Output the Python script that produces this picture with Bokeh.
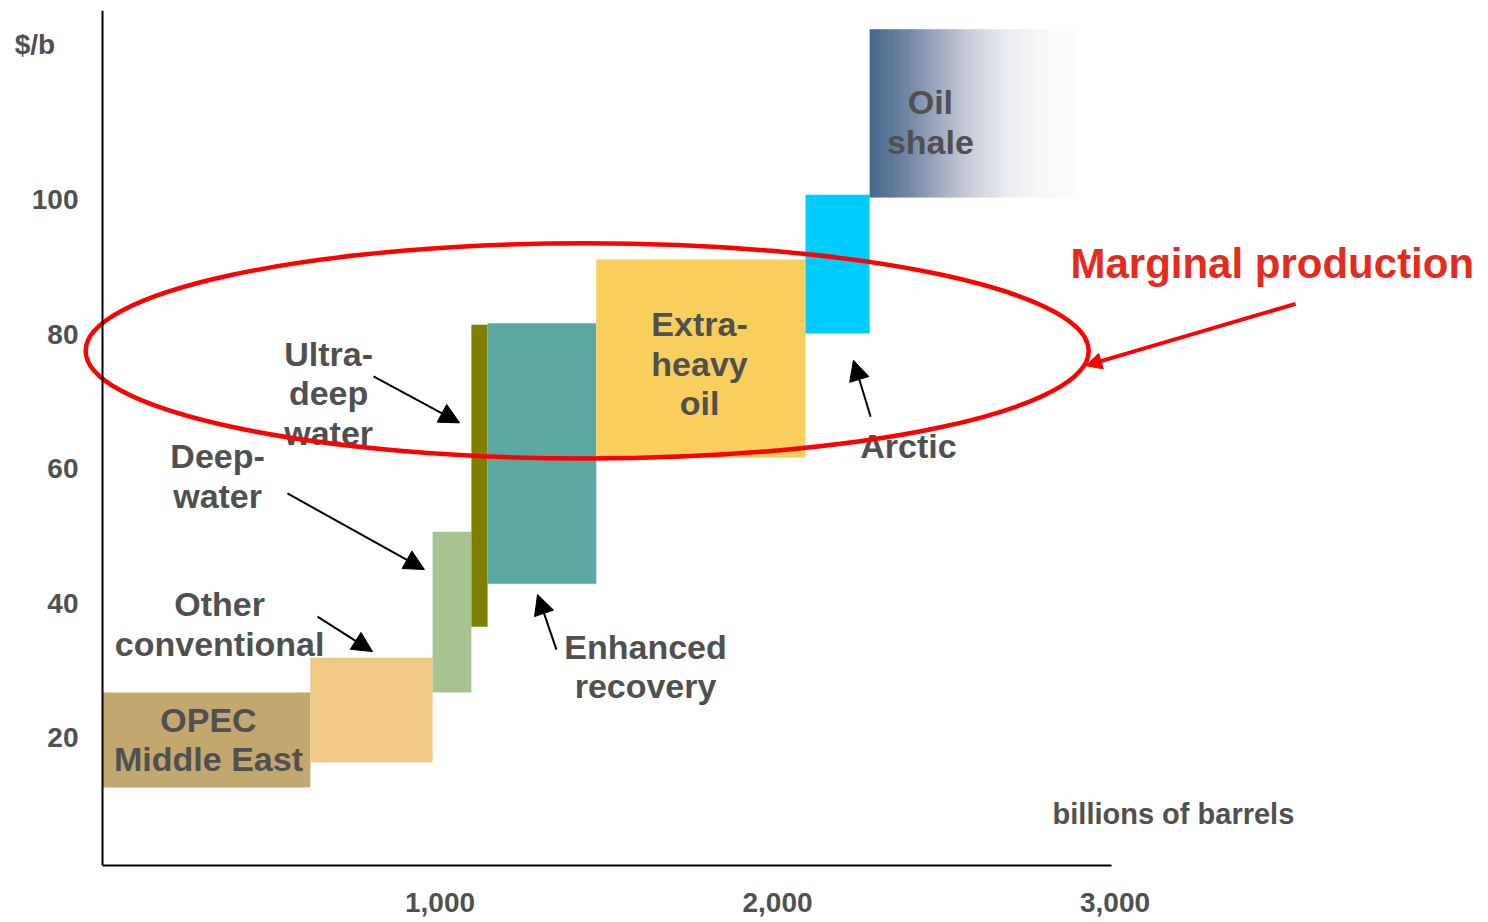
from bokeh.plotting import figure
from bokeh.models import (Range1d, FixedTicker, NumeralTickFormatter, Arrow,
                          NormalHead, Span, ColumnDataSource)
from bokeh.core.properties import value
from bokeh.embed import file_html
from bokeh.resources import INLINE

# ---------------- data ----------------
categories = ["OPEC Middle East", "Other conventional", "Deep-water",
              "Ultra-deep water", "Enhanced recovery", "Extra-heavy oil",
              "Arctic", "Oil shale"]
cum_start = [0, 616, 978, 1093, 1141, 1463, 2083, 2273]      # billions of barrels
cum_end = [616, 978, 1093, 1141, 1463, 2083, 2273, 2889]
cost_low = [12.6, 16.3, 26.7, 36.5, 42.9, 61.6, 80.1, 100.3]  # $/b
cost_high = [26.7, 31.9, 50.6, 81.4, 81.6, 91.1, 100.7, 125.3]
bar_colors = ["#C2A76E", "#EFC885", "#A8C290", "#808000", "#5AAAA3",
              "#F8CF5C", "#00CCFF", None]

x_ticks = [1000, 2000, 3000]
y_ticks = [20, 40, 60, 80, 100]
y_unit_pos = 123
y_unit_label = "$/b"

label_texts = ["OPEC\nMiddle East", "Other\nconventional", "Deep-\nwater",
               "Ultra-\ndeep\nwater", "Enhanced\nrecovery", "Extra-\nheavy\noil",
               "Arctic", "Oil\nshale"]
label_x = [314, 347, 341, 670, 1609, 1769, 2388, 2453]
label_y = [19.7, 36.9, 58.9, 71.2, 30.6, 75.6, 63.4, 111.5]

arrow_x0 = [637, 548, 803, 1345, 2276]
arrow_y0 = [38.0, 56.3, 73.7, 33.1, 67.7]
arrow_x1 = [800, 954, 1058, 1289, 2225]
arrow_y1 = [32.8, 45.0, 66.8, 41.3, 76.1]

# marginal production ellipse & arrow
ell_x, ell_y, ell_w, ell_h = 1436, 77.5, 2972, 32.0
red_arrow = dict(x_start=3535, y_start=84.5, x_end=2913, y_end=75.3)

FONT = "Liberation Sans"
GREY = "#505050"

p = figure(width=1488, height=922, x_range=Range1d(-59.3, 4083),
           y_range=Range1d(1, 128.1), output_backend="svg",
           toolbar_location=None, min_border_left=82, min_border_right=8,
           min_border_top=10, min_border_bottom=57)
p.xgrid.visible = False
p.ygrid.visible = False
p.outline_line_color = None
p.background_fill_color = "white"
p.border_fill_color = "white"

for ax in (p.xaxis[0], p.yaxis[0]):
    ax.axis_line_color = "black"
    ax.axis_line_width = 2
    ax.major_tick_line_color = None
    ax.minor_tick_line_color = None
    ax.major_tick_in = 0
    ax.major_tick_out = 0
    ax.minor_tick_in = 0
    ax.minor_tick_out = 0
    ax.major_label_text_font = FONT
    ax.major_label_text_font_style = "bold"
    ax.major_label_text_font_size = "28px"
    ax.major_label_text_color = GREY

p.xaxis.ticker = FixedTicker(ticks=x_ticks)
p.xaxis.formatter = NumeralTickFormatter(format="0,0")
p.xaxis.bounds = (0, 2990)
p.xaxis.major_label_standoff = 27

p.yaxis.axis_line_color = None
p.yaxis.ticker = FixedTicker(ticks=y_ticks + [y_unit_pos])
p.yaxis.major_label_overrides = {y_unit_pos: y_unit_label + "\u00a0\u00a0\u00a0"}
p.yaxis.major_label_standoff = 4
p.add_layout(Span(location=0, dimension="height", line_color="black",
                  line_width=2))

# solid bars
solid = [i for i in range(len(categories)) if bar_colors[i] is not None]
src = ColumnDataSource(dict(
    left=[cum_start[i] for i in solid], right=[cum_end[i] for i in solid],
    bottom=[cost_low[i] for i in solid], top=[cost_high[i] for i in solid],
    color=[bar_colors[i] for i in solid]))
p.quad(left="left", right="right", bottom="bottom", top="top",
       fill_color="color", line_color=None, source=src)

# gradient bar (oil shale): dark slate blue fading to white
stops_t = [0.0, 0.2, 0.35, 0.5, 0.65, 0.8, 1.0]
stops_c = [(70, 102, 142), (118, 138, 166), (165, 175, 195), (205, 209, 219),
           (232, 234, 239), (246, 246, 248), (253, 253, 253)]


def grad(t):
    for k in range(len(stops_t) - 1):
        if stops_t[k] <= t <= stops_t[k + 1]:
            f = (t - stops_t[k]) / (stops_t[k + 1] - stops_t[k])
            c = [round(stops_c[k][j] + f * (stops_c[k + 1][j] - stops_c[k][j])) for j in range(3)]
            return "#%02x%02x%02x" % tuple(c)
    return "#fdfdfd"


gi = categories.index("Oil shale")
n = 90
w = (cum_end[gi] - cum_start[gi]) / n
g_left = [cum_start[gi] + k * w for k in range(n)]
g_right = [cum_start[gi] + (k + 1) * w + (w * 0.3 if k < n - 1 else 0) for k in range(n)]
g_col = [grad((k + 0.5) / n) for k in range(n)]
p.quad(left=g_left, right=g_right, bottom=cost_low[gi], top=cost_high[gi],
       fill_color=g_col, line_color=None)

# category labels
p.text(x=label_x, y=label_y, text=label_texts, text_align="center",
       text_baseline="middle", text_font=value(FONT), text_font_style="bold",
       text_font_size="34px", text_color=GREY, text_line_height=1.04)

# x axis title
p.text(x=[2815], y=[8.7], text=["billions of barrels"], text_align="left",
       text_baseline="middle", text_font=value(FONT), text_font_style="bold",
       text_font_size="29px", text_color=GREY)

# black pointer arrows
asrc = ColumnDataSource(dict(x0=arrow_x0, y0=arrow_y0, x1=arrow_x1, y1=arrow_y1))
p.add_layout(Arrow(end=NormalHead(size=20, fill_color="black", line_color="black"),
                   x_start="x0", y_start="y0", x_end="x1", y_end="y1",
                   line_color="black", line_width=2, source=asrc))

# marginal production ellipse, arrow and text
p.ellipse(x=[ell_x], y=[ell_y], width=[ell_w], height=[ell_h],
          fill_color=None, line_color="#FF0000", line_width=4.5)
p.add_layout(Arrow(end=NormalHead(size=16, fill_color="#FF0000", line_color="#FF0000"),
                   line_color="#FF0000", line_width=4, **red_arrow))
p.text(x=[2868], y=[90.5], text=["Marginal production"], text_align="left",
       text_baseline="middle", text_font=value(FONT), text_font_style="bold",
       text_font_size="42px", text_color="#E62B1E")

open("out.html", "w").write(file_html(p, INLINE))
